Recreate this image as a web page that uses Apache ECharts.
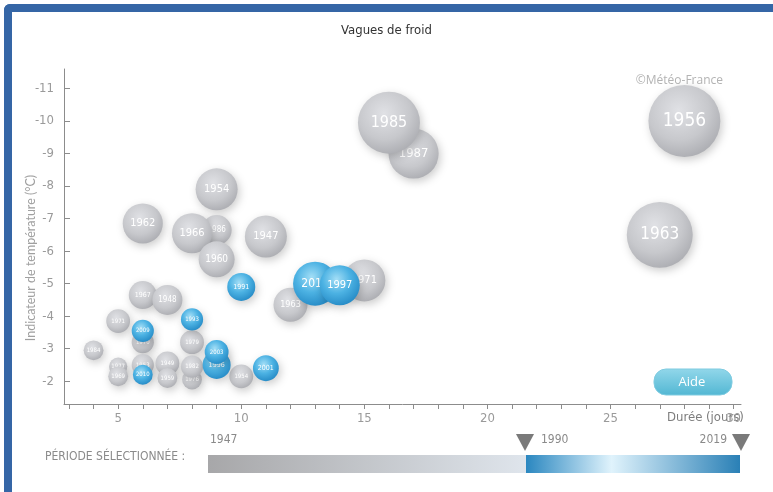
<!DOCTYPE html>
<html>
<head>
<meta charset="utf-8">
<script src="https://cdn.jsdelivr.net/npm/echarts@6/dist/echarts.min.js"></script>
<style>
  html, body { margin: 0; padding: 0; background: #fff; }
  #cadre {
    position: absolute; left: 4px; top: 4px; width: 773px; height: 482px;
    border-left: 8px solid #3566a6; border-top: 8px solid #3566a6;
    border-bottom: 2px solid #3566a6; border-top-left-radius: 6px;
  }
  #vaguesFroid { position: absolute; left: 0; top: 0; width: 773px; height: 492px; }
</style>
</head>
<body>
<div id="cadre"></div>
<div id="vaguesFroid"></div>
<script>
// vagues de froid, dans l'ordre de tracé (les dernières passent devant)
const annees = ['1956', '1963', '1987', '1985', '1954', '1962', '1986', '1966', '1947', '1960',
  '1971', '1963', '1967', '1948', '1971', '1970', '1979', '1984', '1977', '1969',
  '1953', '1949', '1959', '1976', '1982', '1954',
  '1991', '2012', '1997', '1993', '2009', '2010', '1996', '2003', '2001'];
const durees = [28, 27, 17, 16, 9, 6, 9, 8, 11, 9,
  15, 12, 6, 7, 5, 6, 8, 4, 5, 5,
  6, 7, 7, 8, 8, 10,
  10, 13, 14, 8, 6, 6, 9, 9, 11];
const temperatures = [-10.0, -6.5, -9.0, -9.95, -7.9, -6.85, -6.65, -6.55, -6.45, -5.75,
  -5.1, -4.35, -4.65, -4.5, -3.85, -3.2, -3.2, -2.95, -2.45, -2.15,
  -2.5, -2.55, -2.1, -2.05, -2.45, -2.15,
  -4.9, -5.0, -4.95, -3.9, -3.55, -2.2, -2.5, -2.9, -2.4];
const intensites = [26.4, 22.2, 12.8, 19.6, 9.0, 8.2, 4.6, 8.2, 9.0, 6.6,
  9.0, 5.9, 4.0, 4.6, 2.9, 2.5, 2.9, 2.0, 1.7, 2.0,
  2.5, 2.9, 2.0, 2.0, 2.5, 2.9,
  4.0, 9.9, 8.2, 2.5, 2.5, 2.0, 4.0, 2.9, 3.4];
const ticksDuree = [3, 4, 5, 6, 7, 8, 9, 10, 11, 12, 13, 14, 15, 16, 17, 18, 19, 20, 21, 22, 23, 24, 25, 26, 27, 28, 29, 30];
const labelsDuree = [5, 10, 15, 20, 25, 30];
const ticksTemp = [-11, -10, -9, -8, -7, -6, -5, -4, -3, -2];
const periode = ['1947', '1990', '2019'];

const narrow = '"Liberation Sans Narrow", "DejaVu Sans Condensed", sans-serif';

const grisBulle = {
  type: 'radial', x: 0.42, y: 0.35, r: 0.7,
  colorStops: [{ offset: 0, color: '#e0e1e5' }, { offset: 0.6, color: '#c7c8cc' }, { offset: 1, color: '#aaabb0' }]
};
const bleuBulle = {
  type: 'radial', x: 0.42, y: 0.35, r: 0.7,
  colorStops: [{ offset: 0, color: '#a3def6' }, { offset: 0.5, color: '#4cb2e3' }, { offset: 1, color: '#2388c4' }]
};

const series = annees.map((an, i) => {
  const r = 7 * Math.sqrt(intensites[i]);
  return {
    name: an,
    type: 'scatter',
    z: 3 + i,
    symbolSize: 2 * r,
    data: [[durees[i], temperatures[i]]],
    itemStyle: {
      color: Number(an) >= 1990 ? bleuBulle : grisBulle,
      opacity: 1,
      shadowBlur: 8,
      shadowOffsetX: 2,
      shadowOffsetY: 3,
      shadowColor: 'rgba(0,0,0,0.2)'
    },
    label: {
      show: true,
      position: 'inside',
      formatter: an,
      color: '#fff',
      fontFamily: narrow,
      fontSize: Math.max(6, Math.round(r * 0.53))
    },
    emphasis: { disabled: true }
  };
});

const chart = echarts.init(document.getElementById('vaguesFroid'));
chart.setOption({
  animation: false,
  grid: { left: 64, right: 32, top: 69, bottom: 88 },
  xAxis: {
    type: 'value',
    min: 2.8,
    max: 30.3,
    splitLine: { show: false },
    axisLine: { lineStyle: { color: '#8c8c8c' } },
    axisTick: { length: 5, customValues: ticksDuree, lineStyle: { color: '#8c8c8c' } },
    axisLabel: { customValues: labelsDuree, color: '#9a9a9a', fontFamily: narrow, fontSize: 13, margin: 8 }
  },
  yAxis: {
    type: 'value',
    inverse: true,
    min: -11.6,
    max: -1.3,
    splitLine: { show: false },
    axisLine: { show: true, lineStyle: { color: '#8c8c8c' } },
    axisTick: { show: true, inside: true, length: 6, customValues: ticksTemp, lineStyle: { color: '#8c8c8c' } },
    axisLabel: { customValues: ticksTemp, color: '#9a9a9a', fontFamily: narrow, fontSize: 13, margin: 10 }
  },
  graphic: [
    { type: 'text', left: 'center', top: 24, style: { text: 'Vagues de froid', fill: '#333', font: '13px ' + narrow } },
    { type: 'text', x: 723, y: 81, style: { text: '©Météo-France', fill: '#b3b3b3', font: '12px "Open Sans", sans-serif', align: 'right', verticalAlign: 'middle' } },
    { type: 'text', x: 31, y: 258, rotation: Math.PI / 2, style: { text: 'Indicateur de température (°C)', fill: '#a0a0a0', font: '12.5px Lato, sans-serif', align: 'center', verticalAlign: 'middle' } },
    { type: 'text', x: 667, y: 418, style: { text: 'Durée (jours)', fill: '#7d7d7d', font: '13px ' + narrow, verticalAlign: 'middle' } },
    {
      type: 'rect', shape: { x: 654, y: 369, width: 78, height: 26, r: 12 },
      style: {
        fill: { type: 'linear', x: 0, y: 0, x2: 0, y2: 1, colorStops: [{ offset: 0, color: '#92d7ea' }, { offset: 1, color: '#52b7d3' }] },
        stroke: '#7fcbe0', lineWidth: 1
      }
    },
    { type: 'text', x: 692, y: 382, style: { text: 'Aide', fill: '#fff', font: '13px "Open Sans", sans-serif', align: 'center', verticalAlign: 'middle' } },
    { type: 'text', x: 45, y: 457, style: { text: 'PÉRIODE SÉLECTIONNÉE :', fill: '#8a8a8a', font: '12px ' + narrow, verticalAlign: 'middle' } },
    {
      type: 'rect', shape: { x: 208, y: 455, width: 318, height: 18 },
      style: { fill: { type: 'linear', x: 0, y: 0, x2: 1, y2: 0, colorStops: [{ offset: 0, color: '#a7a7a9' }, { offset: 1, color: '#dfe5ec' }] } }
    },
    {
      type: 'rect', shape: { x: 526, y: 455, width: 214, height: 18 },
      style: {
        fill: {
          type: 'linear', x: 0, y: 0, x2: 1, y2: 0,
          colorStops: [{ offset: 0, color: '#2a87c0' }, { offset: 0.4, color: '#e0f3fc' }, { offset: 1, color: '#2a80b6' }]
        }
      }
    },
    { type: 'text', x: 210, y: 440, style: { text: periode[0], fill: '#8a8a8a', font: '12px ' + narrow, verticalAlign: 'middle' } },
    { type: 'text', x: 541, y: 440, style: { text: periode[1], fill: '#8a8a8a', font: '12px ' + narrow, verticalAlign: 'middle' } },
    { type: 'text', x: 727, y: 440, style: { text: periode[2], fill: '#8a8a8a', font: '12px ' + narrow, align: 'right', verticalAlign: 'middle' } },
    { type: 'polygon', shape: { points: [[516, 434], [534, 434], [525, 451]] }, style: { fill: '#7a7a7a' } },
    { type: 'polygon', shape: { points: [[732, 434], [750, 434], [741, 451]] }, style: { fill: '#7a7a7a' } }
  ],
  series: series
});
</script>
</body>
</html>
